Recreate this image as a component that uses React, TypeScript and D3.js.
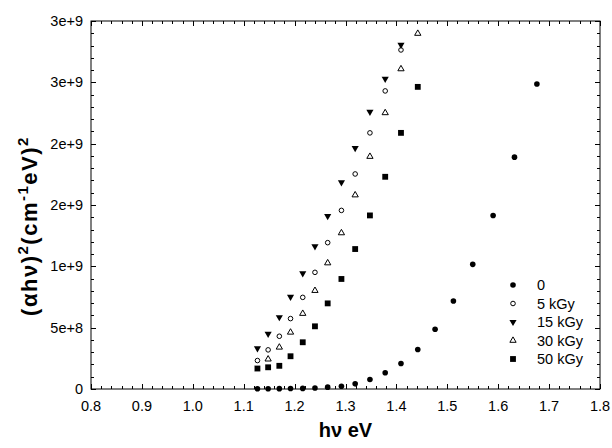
import React from "react";
import * as d3 from "d3";

// photon energy (eV)
const energy = [1.127, 1.148, 1.17, 1.192, 1.216, 1.24, 1.265, 1.292, 1.319, 1.348, 1.378, 1.409, 1.442, 1.476, 1.512, 1.55, 1.59, 1.632, 1.676];
// (alpha h nu)^2 in units of 1e9
const s0 = [0.002, 0.002, 0.003, 0.004, 0.005, 0.008, 0.015, 0.023, 0.042, 0.077, 0.132, 0.208, 0.322, 0.487, 0.718, 1.016, 1.415, 1.89, 2.487];
const s5 = [0.232, 0.319, 0.43, 0.574, 0.747, 0.951, 1.193, 1.456, 1.753, 2.088, 2.43, 2.764];
const s15 = [0.332, 0.449, 0.585, 0.751, 0.943, 1.163, 1.41, 1.684, 1.964, 2.259, 2.528, 2.805];
const s30 = [null, 0.243, 0.34, 0.462, 0.615, 0.802, 1.027, 1.272, 1.581, 1.895, 2.251, 2.609, 2.898];
const s50 = [0.167, 0.177, 0.189, 0.267, 0.381, 0.511, 0.698, 0.897, 1.141, 1.415, 1.73, 2.088, 2.463];

const seriesNames = ["0", "5 kGy", "15 kGy", "30 kGy", "50 kGy"];
const xTicks = [0.8, 0.9, 1.0, 1.1, 1.2, 1.3, 1.4, 1.5, 1.6, 1.7, 1.8];
const xTickLabels = ["0.8", "0.9", "1.0", "1.1", "1.2", "1.3", "1.4", "1.5", "1.6", "1.7", "1.8"];
const yTicks = [0, 0.5, 1.0, 1.5, 2.0, 2.5, 3.0];
const yTickLabels = ["0", "5e+8", "1e+9", "2e+9", "2e+9", "3e+9", "3e+9"];

const FONT = "'Liberation Sans', Arial, sans-serif";

type Mk = "dot" | "ring" | "down" | "up" | "square";
const markers: Mk[] = ["dot", "ring", "down", "up", "square"];
const allSeries = [s0, s5, s15, s30, s50];

function Marker({ kind, x, y }: { kind: Mk; x: number; y: number }) {
  if (kind === "dot") return <circle cx={x} cy={y} r={2.8} fill="#000" />;
  if (kind === "ring") return <circle cx={x} cy={y} r={2.3} fill="#fff" stroke="#000" strokeWidth={1} />;
  if (kind === "square") {
    const p = d3.symbol().type(d3.symbolSquare).size(34)();
    return <path d={p || ""} transform={`translate(${x},${y})`} fill="#000" />;
  }
  if (kind === "down") {
    const p = d3.symbol().type(d3.symbolTriangle).size(22)();
    return <path d={p || ""} transform={`translate(${x},${y}) rotate(180)`} fill="#000" />;
  }
  const p = d3.symbol().type(d3.symbolTriangle).size(17)();
  return <path d={p || ""} transform={`translate(${x},${y})`} fill="#fff" stroke="#000" strokeWidth={1} />;
}

export default function App() {
  const W = 612, H = 448;
  const x = d3.scaleLinear().domain([0.8, 1.8]).range([91, 600]);
  const y = d3.scaleLinear().domain([0, 3.0]).range([389, 21]);
  const [x0, x1] = x.range();
  const [yb, yt] = y.range();

  const xMinor = d3.range(0.8, 1.8001, 0.02).map((v) => +v.toFixed(2));
  const yMinor = d3.range(0, 3.0001, 0.1).map((v) => +v.toFixed(2));
  const major = 5, minor = 3;

  return (
    <svg width={W} height={H} style={{ position: "absolute", left: 0, top: 0, background: "#fff" }}>
      <rect x={0} y={0} width={W} height={H} fill="#fff" />
      {/* ticks */}
      <g stroke="#000" strokeWidth={1}>
        {xMinor.map((v, i) => {
          const isMajor = xTicks.some((t) => Math.abs(t - v) < 1e-6);
          const l = isMajor ? major : minor;
          const px = Math.round(x(v)) + 0.5;
          return (
            <g key={"xt" + i}>
              <line x1={px} x2={px} y1={yb} y2={yb - l} />
              <line x1={px} x2={px} y1={yt} y2={yt + l} />
            </g>
          );
        })}
        {yMinor.map((v, i) => {
          const isMajor = yTicks.some((t) => Math.abs(t - v) < 1e-6);
          const l = isMajor ? major : minor;
          const py = Math.round(y(v)) + 0.5;
          return (
            <g key={"yt" + i}>
              <line x1={x0} x2={x0 + l} y1={py} y2={py} />
              <line x1={x1} x2={x1 - l} y1={py} y2={py} />
            </g>
          );
        })}
      </g>
      {/* frame */}
      <rect x={x0} y={yt} width={x1 - x0} height={yb - yt} fill="none" stroke="#000" strokeWidth={1} />
      {/* tick labels */}
      <g fontFamily={FONT} fontSize={14.5} fill="#000">
        {xTicks.map((t, i) => (
          <text key={"xl" + i} x={x(t)} y={411} textAnchor="middle">{xTickLabels[i]}</text>
        ))}
        {yTicks.map((t, i) => (
          <text key={"yl" + i} x={83} y={y(t)} textAnchor="end" dominantBaseline="central">{yTickLabels[i]}</text>
        ))}
      </g>
      {/* data */}
      {allSeries.map((s, si) =>
        s.map((v, i) =>
          v == null ? null : <Marker key={`m${si}-${i}`} kind={markers[si]} x={x(energy[i])} y={y(v)} />
        )
      )}
      {/* legend */}
      <g fontFamily={FONT} fontSize={14.5}>
        {seriesNames.map((n, i) => {
          const ly = 285 + i * 18.5;
          return (
            <g key={"lg" + i}>
              <Marker kind={markers[i]} x={513} y={ly} />
              <text x={537} y={ly} dominantBaseline="central">{n}</text>
            </g>
          );
        })}
      </g>
      {/* axis titles */}
      <text x={(x0 + x1) / 2} y={437} textAnchor="middle" fontFamily={FONT} fontWeight="bold" fontSize={20}>
        hν eV
      </text>
      <text transform={`translate(37,${226}) rotate(-90)`} textAnchor="middle" fontFamily={FONT} fontWeight="bold" fontSize={22} letterSpacing={1.5}>
        (αhν)<tspan dy={-9} fontSize={15}>2</tspan><tspan dy={9}>(cm</tspan><tspan dy={-9} fontSize={15}>-1</tspan><tspan dy={9}>eV)</tspan><tspan dy={-9} fontSize={15}>2</tspan>
      </text>
    </svg>
  );
}
